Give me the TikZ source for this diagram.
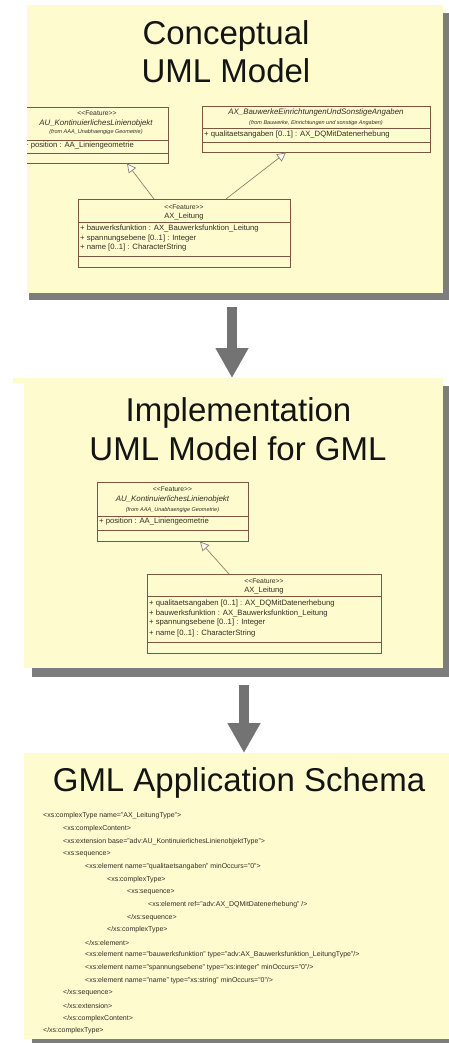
\documentclass[tikz,border=0pt]{standalone}
\usepackage{fontspec}
\setmainfont{Liberation Sans}
\usetikzlibrary{arrows.meta}
\newcommand\stL{<\kern0pt<}
\newcommand\stR{>\kern0pt>}
\definecolor{paper}{RGB}{254,252,206}
\definecolor{shade}{RGB}{125,125,125}
\definecolor{umlline}{RGB}{125,85,70}
\definecolor{umltext}{RGB}{50,45,40}
\definecolor{genline}{RGB}{150,125,105}
\definecolor{bigarrow}{RGB}{115,115,115}
\tikzset{
  panelbg/.style={fill=paper, draw=none},
  shadowbg/.style={fill=shade, draw=none},
  umlbox/.style={draw=umlline, line width=0.8pt, anchor=north west, inner sep=0pt, fill=paper},
  umlsep/.style={draw=umlline, line width=0.8pt},
  titletext/.style={font=\fontsize{33}{36}\selectfont, text=black!92, inner sep=0pt, anchor=base},
  stereo/.style={font=\fontsize{6.8}{7}\selectfont, text=umltext, inner sep=0pt},
  cname/.style={font=\fontsize{7.6}{8}\selectfont, text=umltext, inner sep=0pt},
  cnameit/.style={font=\fontsize{7.9}{8}\selectfont\itshape, text=umltext, inner sep=0pt},
  fromtext/.style={font=\fontsize{5.5}{6}\selectfont\itshape, text=umltext, inner sep=0pt},
  attr/.style={font=\fontsize{7.7}{8}\selectfont, text=umltext, inner sep=0pt, anchor=west},
  gen/.style={draw=genline, line width=0.7pt, -{Triangle[length=9pt,width=9pt,fill=white]}},
  flowarrow/.style={draw=bigarrow, line width=10pt, -{Triangle[length=30pt,width=31pt]}},
  xml/.style={font=\fontsize{7}{7}\selectfont, text=umltext, inner sep=0pt, anchor=west},
}
\begin{document}
\begin{tikzpicture}[x=1pt,y=-1pt]
\useasboundingbox (0,0) rectangle (449,1043);
\fill[white] (0,0) rectangle (449,1043);

% ---------------- Panel 1 ----------------
\fill[shadowbg] (29,13) rectangle (449,300);
\node[panelbg, anchor=north west, minimum width=416pt, minimum height=288pt, inner sep=0pt] (p1) at (27,5) {};
\node[titletext] (t1a) at (226,45) {Conceptual};
\node[titletext] (t1b) at (226,83) {UML Model};

\begin{scope}
\clip (27,5) rectangle (443,293);
\node[umlbox, minimum width=146pt, minimum height=56pt] (a1) at (22,107) {};
\draw[umlsep] (22,140) -- (168,140);
\draw[umlsep] (22,153) -- (168,153);
\node[stereo] (a1s) at (97,113) {\stL Feature\stR};
\node[cnameit] (a1n) at (96,123) {AU\_KontinuierlichesLinienobjekt};
\node[fromtext] (a1f) at (96,132) {(from AAA\_Unabhaengige Geometrie)};
\node[attr] (a1a) at (24,145.5) {+ position : AA\_Liniengeometrie};
\end{scope}

\node[umlbox, minimum width=228pt, minimum height=46pt] (b1) at (202,106) {};
\draw[umlsep] (202,128) -- (430,128);
\draw[umlsep] (202,142) -- (430,142);
\node[cnameit] (b1n) at (316,112.5) {AX\_BauwerkeEinrichtungenUndSonstigeAngaben};
\node[fromtext] (b1f) at (316,123) {(from Bauwerke, Einrichtungen und sonstige Angaben)};
\node[attr] (b1a) at (204,135) {+ qualitaetsangaben [0..1] : AX\_DQMitDatenerhebung};

\node[umlbox, minimum width=212pt, minimum height=68pt] (c1) at (78,199) {};
\draw[umlsep] (78,222) -- (290,222);
\draw[umlsep] (78,256) -- (290,256);
\node[stereo] (c1s) at (184,207) {\stL Feature\stR};
\node[cname] (c1n) at (184,217) {AX\_Leitung};
\node[attr] (c1a) at (80,229) {+ bauwerksfunktion : AX\_Bauwerksfunktion\_Leitung};
\node[attr] (c1b) at (80,238.5) {+ spannungsebene [0..1] : Integer};
\node[attr] (c1c) at (80,248) {+ name [0..1] : CharacterString};

\coordinate (g1s) at (154,199);
\coordinate (g1e) at (127,163.5);
\coordinate (g2s) at (226,199);
\coordinate (g2e) at (286,152.5);
\draw[gen] (g1s) -- (g1e);
\draw[gen] (g2s) -- (g2e);

% ---------------- Arrow 1 ----------------
\coordinate (f1s) at (232,307);
\coordinate (f1e) at (232,378);
\draw[flowarrow] (f1s) -- (f1e);

% ---------------- Panel 2 ----------------
\fill[shadowbg] (32,386) rectangle (449,677);
\fill[panelbg] (13,378) rectangle (443,383);
\node[panelbg, anchor=north west, minimum width=419pt, minimum height=287pt, inner sep=0pt] (p2) at (24,381) {};
\node[titletext] (t2a) at (238.5,421.5) {Implementation};
\node[titletext] (t2b) at (238,460) {UML Model for GML};

\node[umlbox, minimum width=151pt, minimum height=59pt] (a2) at (97,482) {};
\draw[umlsep] (97,516) -- (248,516);
\draw[umlsep] (97,530) -- (248,530);
\node[stereo] (a2s) at (172.5,489) {\stL Feature\stR};
\node[cnameit] (a2n) at (172.5,499.5) {AU\_KontinuierlichesLinienobjekt};
\node[fromtext] (a2f) at (172.5,510) {(from AAA\_Unabhaengige Geometrie)};
\node[attr] (a2a) at (99,521.5) {+ position : AA\_Liniengeometrie};

\node[umlbox, minimum width=234pt, minimum height=79pt] (c2) at (147,574) {};
\draw[umlsep] (147,596) -- (381,596);
\draw[umlsep] (147,642) -- (381,642);
\node[stereo] (c2s) at (264,581) {\stL Feature\stR};
\node[cname] (c2n) at (264,591) {AX\_Leitung};
\node[attr] (c2a) at (149,603.5) {+ qualitaetsangaben [0..1] : AX\_DQMitDatenerhebung};
\node[attr] (c2b) at (149,613.5) {+ bauwerksfunktion : AX\_Bauwerksfunktion\_Leitung};
\node[attr] (c2c) at (149,623) {+ spannungsebene [0..1] : Integer};
\node[attr] (c2d) at (149,633.5) {+ name [0..1] : CharacterString};

\coordinate (g3s) at (229,574);
\coordinate (g3e) at (200,541.5);
\draw[gen] (g3s) -- (g3e);

% ---------------- Arrow 2 ----------------
\coordinate (f2s) at (244,685);
\coordinate (f2e) at (244,753);
\draw[flowarrow] (f2s) -- (f2e);

% ---------------- Panel 3 ----------------
\fill[shadowbg] (32,1039) rectangle (449,1043);
\node[panelbg, anchor=north west, minimum width=425pt, minimum height=286pt, inner sep=0pt] (p3) at (24,753) {};
\node[titletext] (t3) at (239,791.5) {GML Application Schema};

\node[xml] (x1)  at (43,816.0) {<xs:complexType name="AX\_LeitungType">};
\node[xml] (x2)  at (63,828.6) {<xs:complexContent>};
\node[xml] (x3)  at (63,841.3) {<xs:extension base="adv:AU\_KontinuierlichesLinienobjektType">};
\node[xml] (x4)  at (63,853.9) {<xs:sequence>};
\node[xml] (x5)  at (85,866.6) {<xs:element name="qualitaetsangaben" minOccurs="0">};
\node[xml] (x6)  at (107,879.2) {<xs:complexType>};
\node[xml] (x7)  at (127,891.9) {<xs:sequence>};
\node[xml] (x8)  at (148,904.5) {<xs:element ref="adv:AX\_DQMitDatenerhebung" />};
\node[xml] (x9)  at (127,917.2) {</xs:sequence>};
\node[xml] (x10) at (107,929.8) {</xs:complexType>};
\node[xml] (x11) at (85,942.5) {</xs:element>};
\node[xml] (x12) at (85,955.1) {<xs:element name="bauwerksfunktion" type="adv:AX\_Bauwerksfunktion\_LeitungType"/>};
\node[xml] (x13) at (85,967.8) {<xs:element name="spannungsebene" type="xs:integer" minOccurs="0"/>};
\node[xml] (x14) at (85,980.4) {<xs:element name="name" type="xs:string" minOccurs="0"/>};
\node[xml] (x15) at (63,993.1) {</xs:sequence>};
\node[xml] (x16) at (63,1005.7) {</xs:extension>};
\node[xml] (x17) at (63,1018.4) {</xs:complexContent>};
\node[xml] (x18) at (43,1031.0) {</xs:complexType>};
\end{tikzpicture}
\end{document}
